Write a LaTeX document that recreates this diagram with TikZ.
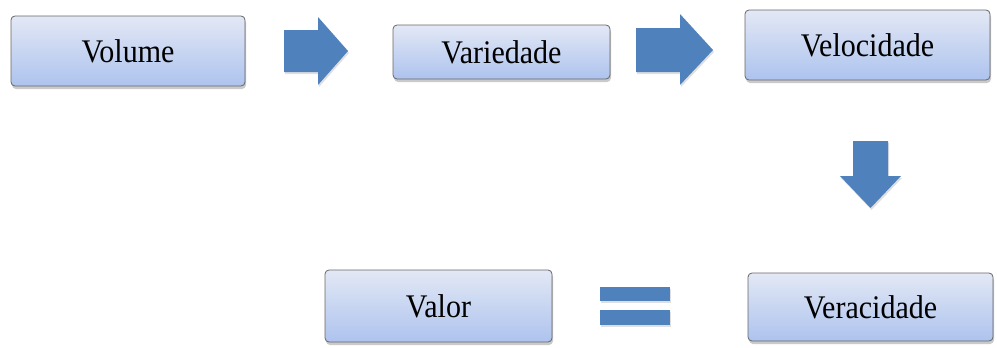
\documentclass[tikz,border=0pt]{standalone}
\usepackage{fontspec}
\usepackage{graphicx}
\setmainfont{Liberation Serif}
\usetikzlibrary{shadows}
\definecolor{boxtop}{HTML}{E3E8F5}
\definecolor{boxbot}{HTML}{ADC3EE}
\definecolor{boxline}{HTML}{666666}
\definecolor{arrowblue}{HTML}{4F81BD}
\newcommand\narrowtext[1]{\scalebox{0.91}[1]{#1}}
\tikzset{
  vbox/.style={draw=boxline, line width=0.8pt, rounded corners=4pt,
    top color=boxtop, bottom color=boxbot,
    drop shadow={shadow xshift=1pt, shadow yshift=-3pt, opacity=0.35, fill=black!60},
    font=\fontsize{33}{36}\selectfont, inner sep=0pt},
  barrow/.style={fill=arrowblue, draw=none,
    drop shadow={shadow xshift=1pt, shadow yshift=-2pt, opacity=0.25, fill=black!50}},
}
\begin{document}
\begin{tikzpicture}[x=1pt,y=-1pt]
\useasboundingbox (0,0) rectangle (997,348);
\node[vbox, minimum width=234pt, minimum height=70pt] (vol) at (128,51) {\narrowtext{Volume}};
\node[vbox, minimum width=217pt, minimum height=54pt] (var) at (501.5,52) {\narrowtext{Variedade}};
\node[vbox, minimum width=245pt, minimum height=70pt] (vel) at (867.5,45) {\narrowtext{Velocidade}};
\node[vbox, minimum width=245pt, minimum height=68pt] (ver) at (870.5,307) {\narrowtext{Veracidade}};
\node[vbox, minimum width=227pt, minimum height=72pt] (val) at (438.5,306) {\narrowtext{Valor}};
% block arrows
\fill[barrow] (284,30) -- (318,30) -- (318,17) -- (348,51) -- (318,85) -- (318,72) -- (284,72) -- cycle;
\fill[barrow] (636,28) -- (680,28) -- (680,14) -- (713,50) -- (680,85) -- (680,72) -- (636,72) -- cycle;
\fill[barrow] (853,141) -- (888,141) -- (888,176) -- (901,176) -- (870.5,208) -- (840,176) -- (853,176) -- cycle;
% equals sign
\fill[barrow] (600,287) rectangle (670,301);
\fill[barrow] (600,310) rectangle (670,325);
\end{tikzpicture}
\end{document}
